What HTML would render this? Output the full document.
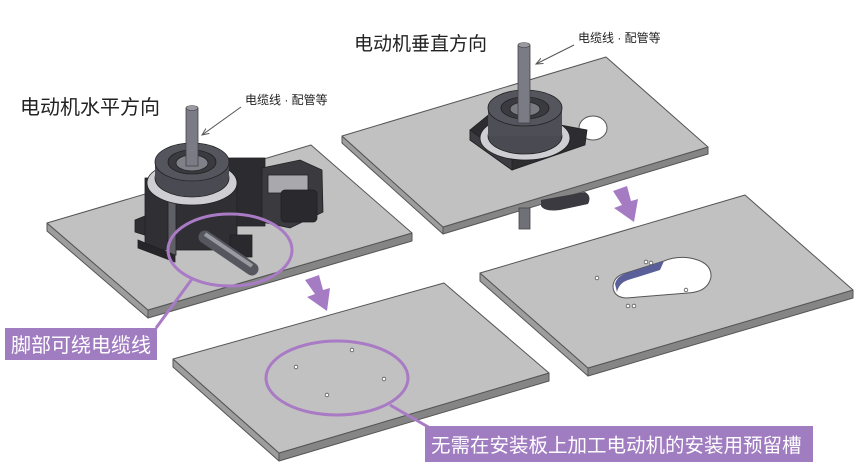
<!DOCTYPE html>
<html><head><meta charset="utf-8"><style>
html,body{margin:0;padding:0;background:#fff;width:858px;height:474px;overflow:hidden}
svg{display:block}
text{font-family:"Liberation Sans","Noto Sans CJK SC",sans-serif}
</style></head><body>
<svg width="858" height="474" viewBox="0 0 858 474" xmlns="http://www.w3.org/2000/svg">
<defs>
<marker id="ah" markerWidth="8" markerHeight="8" refX="7" refY="4" orient="auto"><path d="M0,1 L7,4 L0,7" fill="none" stroke="#555" stroke-width="1"/></marker>
</defs>
<!-- Plate 1 -->
<g stroke="#555" stroke-width="1" stroke-linejoin="round">
<polygon points="47,223 148,310 148,318 47,231" fill="#9d9d9d"/>
<polygon points="148,310 412,233 412,241 148,318" fill="#858585"/>
<polygon points="47,223 311,145 412,233 148,310" fill="#c2c1c2"/>
</g>
<!-- Plate 2 -->
<g stroke="#555" stroke-width="1" stroke-linejoin="round">
<polygon points="342,136 443,227 443,234 342,143" fill="#9d9d9d"/>
<polygon points="443,227 708,147 708,154 443,234" fill="#858585"/>
<polygon points="342,136 606,57 708,147 443,227" fill="#c2c1c2"/>
<ellipse cx="593" cy="128" rx="14" ry="12" fill="#fff"/>
</g>
<!-- under plate 2 -->
<path d="M541,200 L585,192 Q592,196 588,204 L560,210 Q545,212 541,206 Z" fill="#3a3a40"/>
<rect x="519" y="208" width="11" height="21" fill="#6f7078" stroke="#444" stroke-width="0.8"/>
<!-- Plate 3 -->
<g stroke="#555" stroke-width="1" stroke-linejoin="round">
<polygon points="480,273 588,368 588,376 480,281" fill="#9d9d9d"/>
<polygon points="588,368 853,290 853,298 588,376" fill="#858585"/>
<polygon points="480,273 745,195 853,290 588,368" fill="#c2c1c2"/>
</g>
<path d="M626,273 L664,261 Q676,256 690,258 Q712,262 711,277 Q708,292 688,293 L626,298 Q613,297 613,286 Q614,276 626,273 Z" fill="#fff" stroke="#555" stroke-width="1"/>
<path d="M615,284 Q617,276 627,273 L664,261 L660,270 L628,280 Q619,283 617,292 Z" fill="#5a5f9a"/>
<g fill="#fff" stroke="#555" stroke-width="0.8">
<circle cx="597" cy="278" r="1.8"/><circle cx="646" cy="262" r="1.8"/><circle cx="651" cy="263" r="1.8"/>
<circle cx="686" cy="290" r="1.8"/><circle cx="628" cy="306" r="1.8"/><circle cx="634" cy="306" r="1.8"/>
</g>
<!-- Plate 4 -->
<g stroke="#555" stroke-width="1" stroke-linejoin="round">
<polygon points="173,359 279,453 279,461 173,367" fill="#9d9d9d"/>
<polygon points="279,453 549,373 549,381 279,461" fill="#858585"/>
<polygon points="173,359 444,283 549,373 279,453" fill="#c2c1c2"/>
</g>
<g fill="#fff" stroke="#555" stroke-width="0.8">
<circle cx="296" cy="367" r="1.8"/><circle cx="352" cy="350" r="1.8"/><circle cx="384" cy="379" r="1.8"/><circle cx="327" cy="395" r="1.8"/>
</g>

<!-- Motor 1 (horizontal) -->
<g stroke="#222" stroke-width="0.8">
<rect x="225" y="158" width="40" height="68" fill="#2c2c30"/>
<polygon points="262,168 300,160 322,170 323,212 290,228 262,222" fill="#3a3a3f"/>
<rect x="268" y="175" width="40" height="18" fill="#a9a9ad"/>
<rect x="281" y="190" width="36" height="32" rx="4" fill="#2a2a2e"/>
<polygon points="135,220 160,210 160,240 135,232" fill="#2e2e33"/>
<rect x="145" y="178" width="92" height="72" fill="#2f2f34"/>
<rect x="168" y="200" width="8" height="55" fill="#5f5f66"/>
<polygon points="138,240 175,255 175,262 138,248" fill="#26262a"/>
<rect x="230" y="235" width="22" height="22" fill="#2a2a2e"/>
<ellipse cx="192" cy="183" rx="45" ry="22" fill="#cfcfd3"/>
<ellipse cx="192" cy="178" rx="37" ry="19" fill="#4a4a52"/>
<rect x="155" y="162" width="74" height="16" fill="#4a4a52" stroke="none"/>
<ellipse cx="192" cy="162" rx="37" ry="19" fill="#55555e"/>
<ellipse cx="192" cy="162" rx="24" ry="12" fill="#3a3a40"/>
<ellipse cx="192" cy="163" rx="16" ry="8" fill="#808088"/>
</g>
<path d="M205,237 L252,269" stroke="#55565e" stroke-width="13" stroke-linecap="round"/>
<path d="M205,234 L252,266" stroke="#9a9aa2" stroke-width="4"/>
<rect x="186" y="108" width="12" height="58" fill="#7a7b84" stroke="#444" stroke-width="0.8"/>
<ellipse cx="192" cy="108" rx="6" ry="2.5" fill="#9a9aa2" stroke="#444" stroke-width="0.6"/>

<!-- Motor 2 (vertical) -->
<g stroke="#222" stroke-width="0.8">
<polygon points="470,130 492,112 587,130 585,145 512,170 470,140" fill="#2c2c31"/>
<polygon points="470,130 512,160 512,170 470,140" fill="#3c3c42"/>
<ellipse cx="525" cy="138" rx="45" ry="22" fill="#cfcfd3"/>
<ellipse cx="525" cy="136" rx="37" ry="18" fill="#4a4a52"/>
<rect x="488" y="108" width="74" height="28" fill="#4e4e57" stroke="none"/>
<ellipse cx="525" cy="108" rx="37" ry="18" fill="#55555e"/>
<ellipse cx="525" cy="108" rx="24" ry="11" fill="#3a3a40"/>
<ellipse cx="525" cy="109" rx="15" ry="7" fill="#7a7a82"/>
</g>
<rect x="518" y="45" width="12" height="78" fill="#7a7b84" stroke="#444" stroke-width="0.8"/>
<ellipse cx="524" cy="45" rx="6" ry="2.5" fill="#9a9aa2" stroke="#444" stroke-width="0.6"/>

<!-- purple arrows -->
<polygon points="305,280 319,275 323,290 330,288 327,311 307,297 315,294" fill="#a57cc4"/>
<polygon points="613,191 627,186 631,201 638,199 634,222 614,208 622,205" fill="#a57cc4"/>

<!-- ellipses & callouts -->
<g fill="none" stroke="#a87bc4" stroke-width="3">
<ellipse cx="230" cy="250" rx="62" ry="36"/>
<line x1="192" y1="279" x2="156" y2="328"/>
<ellipse cx="337" cy="378" rx="71" ry="37"/>
<line x1="390" y1="405" x2="430" y2="428"/>
</g>
<rect x="5" y="328" width="152" height="32" fill="#a07cc0"/>
<text x="11" y="352" font-size="20" fill="#fff">脚部可绕电缆线</text>
<rect x="425" y="426" width="388" height="36" fill="#a07cc0"/>
<text x="431" y="452" font-size="19.5" fill="#fff">无需在安装板上加工电动机的安装用预留槽</text>

<!-- titles -->
<text x="20" y="114" font-size="20" fill="#222">电动机水平方向</text>
<text x="354" y="50" font-size="19" fill="#222">电动机垂直方向</text>
<text x="245" y="104" font-size="12" fill="#222">电缆线 · 配管等</text>
<text x="578" y="42" font-size="12" fill="#222">电缆线 · 配管等</text>
<line x1="241" y1="107" x2="202" y2="135" stroke="#555" stroke-width="1" marker-end="url(#ah)"/>
<line x1="574" y1="45" x2="536" y2="64" stroke="#555" stroke-width="1" marker-end="url(#ah)"/>
</svg>
</body></html>
